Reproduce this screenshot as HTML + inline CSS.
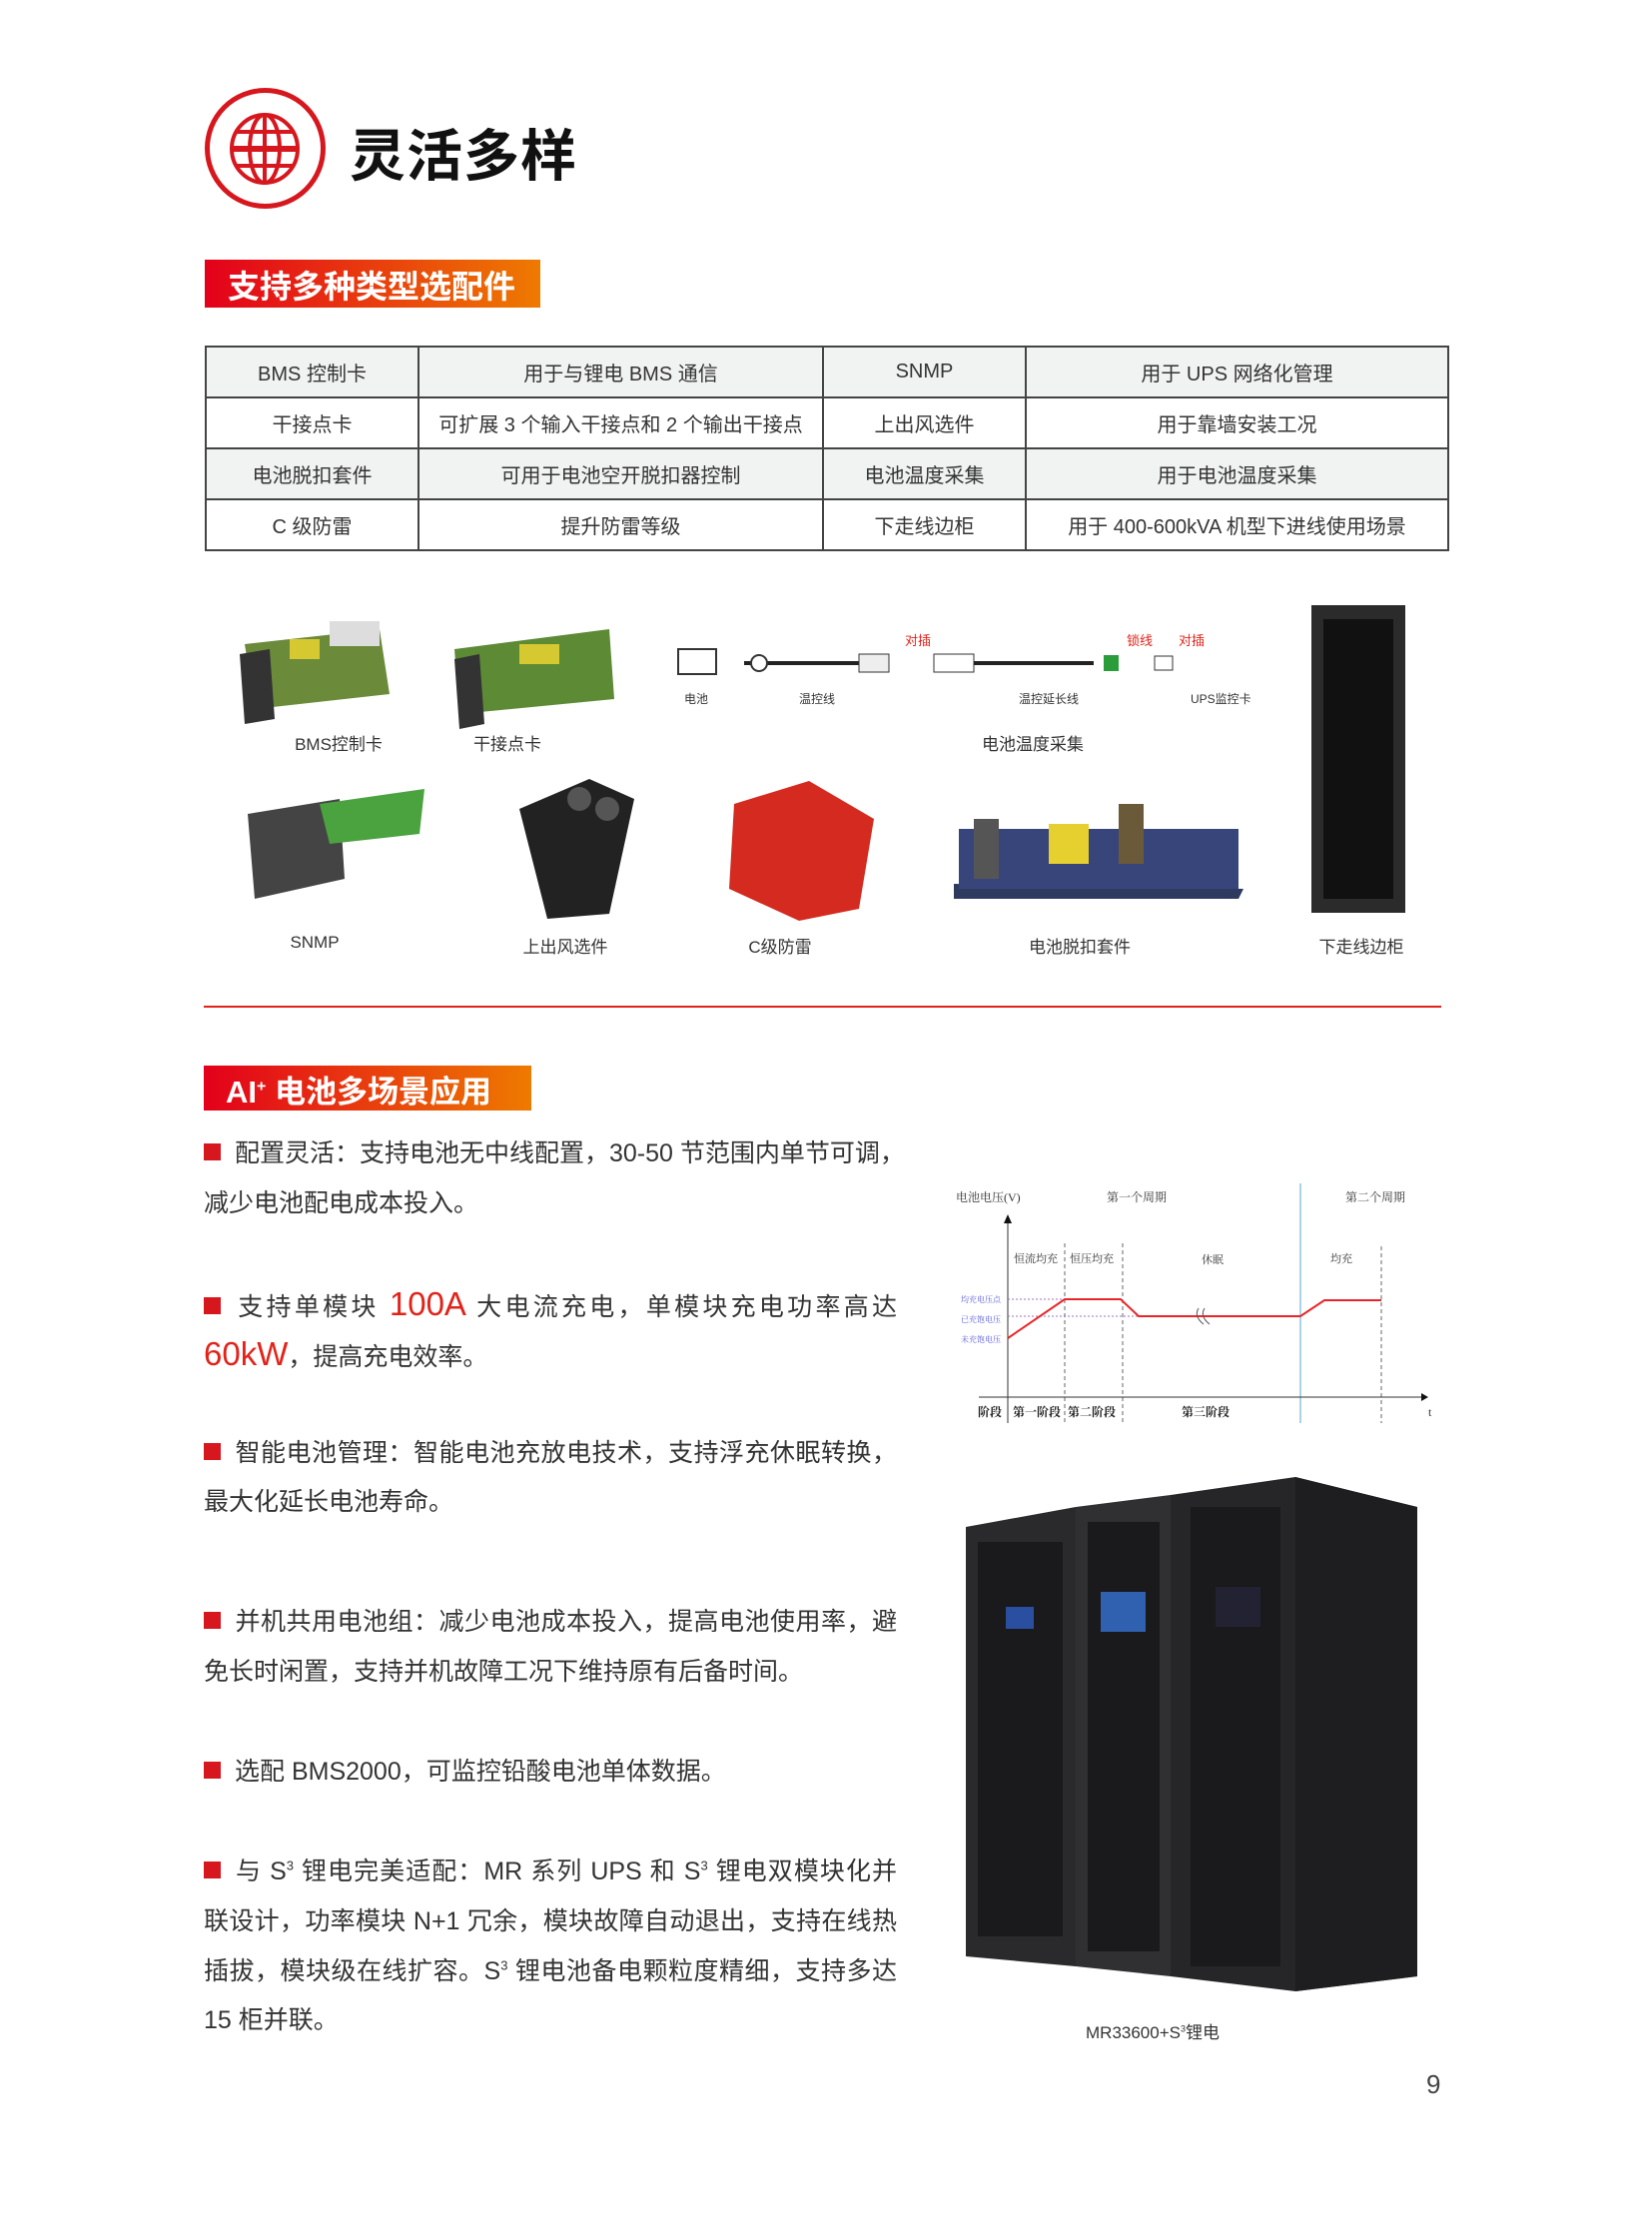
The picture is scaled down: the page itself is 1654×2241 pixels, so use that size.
<!DOCTYPE html>
<html><head><meta charset="utf-8">
<style>
*{margin:0;padding:0;box-sizing:border-box}
body{width:1654px;height:2241px;background:#fff;position:relative;overflow:hidden;font-family:"Liberation Sans","Noto Sans CJK SC",sans-serif;color:#333}
.a{position:absolute}
table{border-collapse:collapse;position:absolute;left:205px;top:346px;width:1246px}
td{border:2px solid #444;height:51px;text-align:center;font-size:20px;color:#333}
tr:nth-child(odd) td{background:#f1f2f2}
.lbl{position:absolute;font-size:17px;color:#333;transform:translateX(-50%);white-space:nowrap}
.ln{position:absolute;left:204px;width:694px;font-size:25px;color:#333;white-space:nowrap;height:40px;line-height:40px}
.j{text-align:justify;text-align-last:justify}
.sq{display:inline-block;width:17px;height:17px;background:#d7171e;margin-right:14px;vertical-align:1px}
.r{color:#e2231a;font-size:33px;line-height:0}
sup{line-height:0;font-size:13px}
</style></head><body>
<div class="a" style="left:205px;top:88px;width:121px;height:121px;border:5px solid #d7171e;border-radius:50%"></div>
<svg class="a" style="left:229px;top:112px" width="72" height="74" viewBox="0 0 72 74">
<g fill="none" stroke="#d7171e" stroke-width="4"><ellipse cx="36" cy="37" rx="33" ry="34"/><ellipse cx="36" cy="37" rx="15" ry="34"/><line x1="36" y1="3" x2="36" y2="71"/><line x1="3" y1="37" x2="69" y2="37" stroke-width="6"/><line x1="8" y1="20" x2="64" y2="20"/><line x1="8" y1="54" x2="64" y2="54"/></g></svg>
<div class="a" style="left:350px;top:112px;font-size:56px;font-weight:bold;color:#111;letter-spacing:1px">灵活多样</div>
<div class="a" style="left:205px;top:260px;width:336px;height:48px;background:linear-gradient(90deg,#e3001b,#ee7a00)"></div>
<div class="a" style="left:228px;top:262px;font-size:32px;font-weight:bold;color:#fff">支持多种类型选配件</div>
<table>
<tr><td style="width:213px">BMS 控制卡</td><td style="width:405px">用于与锂电 BMS 通信</td><td style="width:203px">SNMP</td><td>用于 UPS 网络化管理</td></tr>
<tr><td>干接点卡</td><td>可扩展 3 个输入干接点和 2 个输出干接点</td><td>上出风选件</td><td>用于靠墙安装工况</td></tr>
<tr><td>电池脱扣套件</td><td>可用于电池空开脱扣器控制</td><td>电池温度采集</td><td>用于电池温度采集</td></tr>
<tr><td>C 级防雷</td><td>提升防雷等级</td><td>下走线边柜</td><td>用于 400-600kVA 机型下进线使用场景</td></tr>
</table>
<svg class="a" style="left:0;top:600px" width="1654" height="360">
<g><polygon points="245,45 380,30 390,95 255,110" fill="#6b8b3a"/><polygon points="240,55 270,50 275,120 245,125" fill="#333"/><rect x="330" y="22" width="50" height="25" fill="#ddd"/><rect x="290" y="40" width="30" height="20" fill="#d6c830"/></g>
<g><polygon points="455,50 610,30 615,100 460,115" fill="#5d8a35"/><polygon points="455,60 480,55 485,125 460,130" fill="#333"/><rect x="520" y="45" width="40" height="20" fill="#d6c830"/></g>
<rect x="679" y="50" width="38" height="25" fill="#fff" stroke="#333" stroke-width="2"/>
<line x1="745" y1="64" x2="860" y2="64" stroke="#222" stroke-width="4"/><circle cx="760" cy="64" r="8" fill="#fff" stroke="#333" stroke-width="2"/>
<rect x="860" y="55" width="30" height="18" fill="#eee" stroke="#333"/><rect x="935" y="55" width="40" height="18" fill="#fff" stroke="#333"/>
<line x1="975" y1="64" x2="1095" y2="64" stroke="#222" stroke-width="4"/><rect x="1105" y="56" width="15" height="16" fill="#2a9d3a"/><rect x="1156" y="57" width="18" height="14" fill="#fff" stroke="#333"/>
<text x="906" y="46" font-size="13" fill="#e2231a">对插</text><text x="1128" y="46" font-size="13" fill="#e2231a">锁线</text><text x="1180" y="46" font-size="13" fill="#e2231a">对插</text>
<text x="685" y="104" font-size="12" fill="#333">电池</text><text x="800" y="104" font-size="12" fill="#333">温控线</text><text x="1020" y="104" font-size="12" fill="#333">温控延长线</text><text x="1192" y="104" font-size="12" fill="#333">UPS监控卡</text>
<rect x="1313" y="6" width="94" height="308" fill="#2b2b2b"/><rect x="1325" y="20" width="70" height="280" fill="#111"/>
<polygon points="248,215 340,200 345,280 255,300" fill="#444"/><polygon points="320,205 425,190 420,235 330,245" fill="#4aa33f"/>
<polygon points="520,210 590,180 635,200 610,315 548,320" fill="#222"/><circle cx="580" cy="200" r="12" fill="#555"/><circle cx="608" cy="210" r="12" fill="#555"/>
<polygon points="735,205 810,182 875,220 860,310 800,322 730,290" fill="#d42a20"/>
<polygon points="955,285 1245,290 1240,300 955,300" fill="#2e3a60"/><rect x="960" y="230" width="280" height="60" fill="#37457a"/><rect x="1050" y="225" width="40" height="40" fill="#e6d030"/><rect x="1120" y="205" width="25" height="60" fill="#6b5a3a"/><rect x="975" y="220" width="25" height="60" fill="#555"/>
</svg>
<div class="lbl" style="left:339px;top:731px">BMS控制卡</div>
<div class="lbl" style="left:508px;top:731px">干接点卡</div>
<div class="lbl" style="left:1034px;top:731px">电池温度采集</div>
<div class="lbl" style="left:315px;top:934px">SNMP</div>
<div class="lbl" style="left:566px;top:934px">上出风选件</div>
<div class="lbl" style="left:781px;top:934px">C级防雷</div>
<div class="lbl" style="left:1081px;top:934px">电池脱扣套件</div>
<div class="lbl" style="left:1363px;top:934px">下走线边柜</div>
<div class="a" style="left:204px;top:1007px;width:1239px;height:2px;background:#e2231a"></div>
<div class="a" style="left:204px;top:1067px;width:328px;height:45px;background:linear-gradient(90deg,#e3001b,#ee7a00)"></div>
<div class="a" style="left:226px;top:1068px;font-size:31px;font-weight:bold;color:#fff">AI<sup style="font-size:16px">+</sup> 电池多场景应用</div>
<div class="ln j" style="top:1135px"><span class="sq"></span>配置灵活：支持电池无中线配置，30-50 节范围内单节可调，</div>
<div class="ln" style="top:1185px">减少电池配电成本投入。</div>
<div class="ln j" style="top:1289px"><span class="sq"></span>支持单模块 <span class="r">100A</span> 大电流充电，单模块充电功率高达</div>
<div class="ln" style="top:1339px"><span class="r">60kW</span>，提高充电效率。</div>
<div class="ln j" style="top:1435px"><span class="sq"></span>智能电池管理：智能电池充放电技术，支持浮充休眠转换，</div>
<div class="ln" style="top:1484px">最大化延长电池寿命。</div>
<div class="ln j" style="top:1604px"><span class="sq"></span>并机共用电池组：减少电池成本投入，提高电池使用率，避</div>
<div class="ln" style="top:1654px">免长时闲置，支持并机故障工况下维持原有后备时间。</div>
<div class="ln" style="top:1754px"><span class="sq"></span>选配 BMS2000，可监控铅酸电池单体数据。</div>
<div class="ln j" style="top:1854px"><span class="sq"></span>与 S<sup>3</sup> 锂电完美适配：MR 系列 UPS 和 S<sup>3</sup> 锂电双模块化并</div>
<div class="ln j" style="top:1904px">联设计，功率模块 N+1 冗余，模块故障自动退出，支持在线热</div>
<div class="ln j" style="top:1954px">插拔，模块级在线扩容。S<sup>3</sup> 锂电池备电颗粒度精细，支持多达</div>
<div class="ln" style="top:2003px">15 柜并联。</div>
<svg class="a" style="left:0;top:1150px" width="1654" height="290" font-family="Liberation Serif,Noto Serif CJK SC,serif">
<text x="957" y="53" font-size="12" fill="#333">电池电压(V)</text>
<text x="1108" y="53" font-size="12" fill="#333">第一个周期</text>
<text x="1347" y="53" font-size="12" fill="#333">第二个周期</text>
<line x1="1302" y1="35" x2="1302" y2="275" stroke="#a8d4e6" stroke-width="2"/>
<g stroke="#666" stroke-dasharray="4,3"><line x1="1066" y1="95" x2="1066" y2="275"/><line x1="1124" y1="95" x2="1124" y2="275"/><line x1="1383" y1="98" x2="1383" y2="275"/></g>
<line x1="1009" y1="72" x2="1009" y2="275" stroke="#333"/><polygon points="1005,75 1013,75 1009,66" fill="#111"/>
<line x1="980" y1="249" x2="1425" y2="249" stroke="#333"/><polygon points="1423,245 1430,249 1423,253" fill="#111"/>
<g font-size="11" fill="#333"><text x="1015" y="114">恒流均充</text><text x="1071" y="114">恒压均充</text><text x="1203" y="115">休眠</text><text x="1332" y="114">均充</text></g>
<g font-size="8" fill="#5555dd"><text x="962" y="154">均充电压点</text><text x="962" y="174">已充饱电压</text><text x="962" y="194">未充饱电压</text></g>
<g stroke="#a070c0" stroke-dasharray="2,2"><line x1="1009" y1="151" x2="1066" y2="151"/><line x1="1009" y1="168" x2="1140" y2="168"/></g>
<polyline points="1009,190 1066,151 1122,151 1140,168 1302,168 1326,152 1383,152" fill="none" stroke="#e8262a" stroke-width="2"/>
<path d="M1200,160 q-5,8 5,16 M1206,160 q-5,8 5,16" stroke="#555" fill="none"/>
<g font-size="12" font-weight="bold" fill="#222"><text x="979" y="268">阶段</text><text x="1014" y="268">第一阶段</text><text x="1069" y="268">第二阶段</text><text x="1183" y="268">第三阶段</text></g>
<text x="1430" y="268" font-size="12" fill="#333">t</text>
</svg>
<svg class="a" style="left:967px;top:1479px" width="452" height="520">
<polygon points="0,50 110,30 110,490 0,480" fill="#2a2a2c"/>
<polygon points="110,30 205,18 205,500 110,490" fill="#303033"/>
<polygon points="205,18 330,0 452,30 452,500 330,515 205,500" fill="#262628"/>
<polygon points="330,0 452,30 452,500 330,515" fill="#1e1e20"/>
<rect x="12" y="65" width="85" height="395" fill="#1a1a1c"/><rect x="122" y="45" width="72" height="430" fill="#1a1a1c"/><rect x="225" y="30" width="90" height="460" fill="#1a1a1c"/>
<rect x="40" y="130" width="28" height="22" fill="#2a4fa0"/><rect x="135" y="115" width="45" height="40" fill="#3060b0"/><rect x="250" y="110" width="45" height="40" fill="#223"/>
</svg>
<div class="a" style="left:1087px;top:2021px;font-size:17px;color:#333">MR33600+S<sup style="font-size:9px">3</sup>锂电</div>
<div class="a" style="left:1428px;top:2072px;font-size:26px;color:#444">9</div>
</body></html>
